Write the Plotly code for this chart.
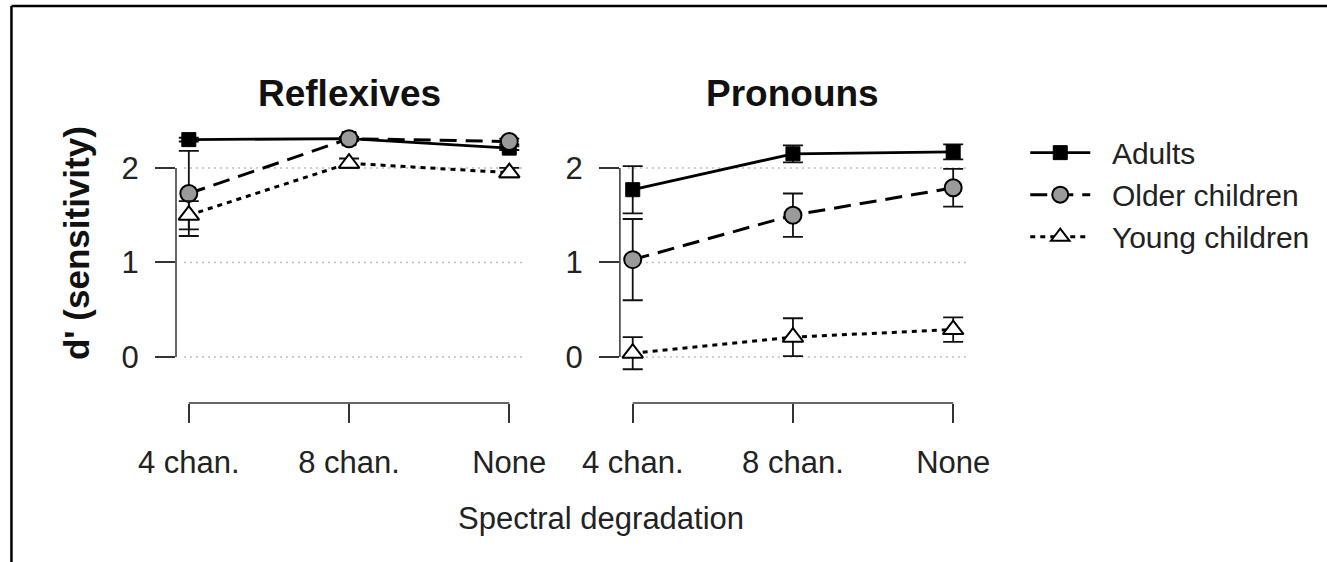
import plotly.graph_objects as go

categories = ["4 chan.", "8 chan.", "None"]
groups = ["Adults", "Older children", "Young children"]
panels = ["Reflexives", "Pronouns"]

refl_adults = [2.30, 2.31, 2.21]
refl_adults_err = [0.02, 0.02, 0.02]
refl_older = [1.73, 2.31, 2.28]
refl_older_err = [0.45, 0.02, 0.03]
refl_young = [1.50, 2.05, 1.95]
refl_young_err = [0.15, 0.05, 0.05]

pron_adults = [1.77, 2.15, 2.17]
pron_adults_err = [0.25, 0.09, 0.08]
pron_older = [1.03, 1.50, 1.79]
pron_older_err = [0.43, 0.23, 0.20]
pron_young = [0.04, 0.21, 0.29]
pron_young_err = [0.17, 0.20, 0.13]

y_ticks = [0, 1, 2]

FONT = "Liberation Sans, Arial, sans-serif"
NB = "\u00a0\u00a0"

styles = {
    "Adults": dict(line=dict(color="black", width=2.8, dash="solid"),
                   marker=dict(symbol="square", size=14, color="black",
                               line=dict(color="black", width=1))),
    "Older children": dict(line=dict(color="black", width=3, dash="17px,9px"),
                           marker=dict(symbol="circle", size=17, color="#9a9a9a",
                                       line=dict(color="black", width=2))),
    "Young children": dict(line=dict(color="black", width=3, dash="5px,5px"),
                           marker=dict(symbol="triangle-up", size=18, color="white",
                                       line=dict(color="black", width=2))),
}

data = {
    "Reflexives": [(refl_adults, refl_adults_err), (refl_older, refl_older_err),
                   (refl_young, refl_young_err)],
    "Pronouns": [(pron_adults, pron_adults_err), (pron_older, pron_older_err),
                 (pron_young, pron_young_err)],
}

fig = go.Figure()
axes = [("x", "y"), ("x2", "y2")]
for pi, panel in enumerate(panels):
    xa, ya = axes[pi]
    for gi, g in enumerate(groups):
        vals, errs = data[panel][gi]
        st = styles[g]
        fig.add_trace(go.Scatter(
            x=categories, y=vals, mode="lines+markers", name=NB + g,
            line=st["line"], marker=st["marker"],
            error_y=dict(type="data", array=errs, visible=True, color="#111",
                         thickness=1.8, width=10),
            xaxis=xa, yaxis=ya, showlegend=(pi == 0), legendgroup=g,
        ))

common_x = dict(type="category", range=[-0.08, 2.08], showgrid=False, zeroline=False,
                showline=False, ticks="outside", ticklen=19, tickwidth=1.5, tickcolor="#333",
                tickfont=dict(family=FONT, size=31, color="#222"), ticklabelstandoff=13,
                fixedrange=True)
common_y = dict(range=[-0.487, 2.497], tickvals=y_ticks, showgrid=False, zeroline=False,
                showline=False, ticks="outside", ticklen=20, tickwidth=1.5, tickcolor="#333",
                tickfont=dict(family=FONT, size=31, color="#222"), ticklabelstandoff=10,
                fixedrange=True)

fig.update_layout(
    width=1327, height=562, autosize=False,
    margin=dict(l=176, r=359, t=121, b=159),
    paper_bgcolor="white", plot_bgcolor="white",
    xaxis=dict(domain=[0, 0.4381], anchor="y", **common_x),
    xaxis2=dict(domain=[0.5619, 1.0], anchor="y2", **common_x),
    yaxis=dict(anchor="x", **common_y),
    yaxis2=dict(anchor="x2", **common_y),
    legend=dict(x=1.075, y=0.98, xanchor="left", yanchor="top",
                font=dict(family=FONT, size=30, color="#222"),
                bgcolor="rgba(0,0,0,0)", itemwidth=60, tracegroupgap=0),
    showlegend=True,
)

shapes = []
for pi in range(2):
    xa, ya = axes[pi]
    xd = xa + " domain"
    yd = ya + " domain"
    for t in y_ticks:
        shapes.append(dict(type="line", xref=xa, yref=ya, x0=-0.03, x1=2.08, y0=t, y1=t,
                           line=dict(color="#bdbdbd", width=1.4, dash="2px,4px"), layer="below"))
    shapes.append(dict(type="line", xref=xd, yref=ya, x0=0, x1=0, y0=y_ticks[0], y1=y_ticks[-1],
                       line=dict(color="#333", width=1.5)))
    shapes.append(dict(type="line", xref=xa, yref=yd, x0=0, x1=len(categories) - 1, y0=0, y1=0,
                       line=dict(color="#333", width=1.5)))
shapes.append(dict(type="line", xref="paper", yref="paper", x0=-0.2083, x1=1.5, y0=1.4078, y1=1.4078,
                   line=dict(color="black", width=2.5)))
shapes.append(dict(type="line", xref="paper", yref="paper", x0=-0.2083, x1=-0.2083, y0=-0.6, y1=1.4078,
                   line=dict(color="black", width=2.5)))
fig.update_layout(shapes=shapes)

annotations = [
    dict(text="<b>Reflexives</b>", xref="x", yref="paper", x=1, y=1.096, showarrow=False,
         xanchor="center", yanchor="middle", font=dict(family=FONT, size=37, color="#111")),
    dict(text="<b>Pronouns</b>", xref="x2", yref="paper", x=1, y=1.096, showarrow=False,
         xanchor="center", yanchor="middle", font=dict(family=FONT, size=37, color="#111")),
    dict(text="<b>d' (sensitivity)</b>", xref="paper", yref="paper", x=-0.1266, y=0.567,
         showarrow=False, textangle=-90, xanchor="center", yanchor="middle",
         font=dict(family=FONT, size=35, color="#111")),
    dict(text="Spectral degradation", xref="paper", yref="paper", x=0.538, y=-0.408,
         showarrow=False, xanchor="center", yanchor="middle",
         font=dict(family=FONT, size=31, color="#222")),
]
fig.update_layout(annotations=annotations)

fig.write_html("out.html", config={"displayModeBar": False},
               post_script="document.body.style.margin='0px';")
